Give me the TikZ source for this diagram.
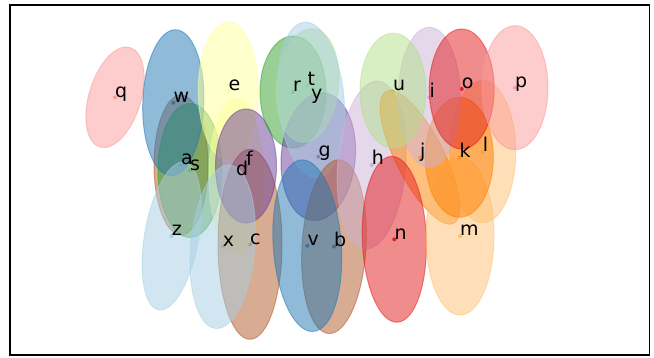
\documentclass[tikz,border=0pt]{standalone}
\usepackage{fontspec}
\setmainfont{DejaVu Sans}

% qualitative "Paired" palette
\definecolor{pLightBlue}{HTML}{A6CEE3}
\definecolor{pBlue}{HTML}{1F78B4}
\definecolor{pLightGreen}{HTML}{B2DF8A}
\definecolor{pGreen}{HTML}{33A02C}
\definecolor{pPink}{HTML}{FB9A99}
\definecolor{pRed}{HTML}{E31A1C}
\definecolor{pLightOrange}{HTML}{FDBF6F}
\definecolor{pOrange}{HTML}{FF7F00}
\definecolor{pLightPurple}{HTML}{CAB2D6}
\definecolor{pPurple}{HTML}{6A3D9A}
\definecolor{pYellow}{HTML}{FFFF99}
\definecolor{pBrown}{HTML}{B15928}

\begin{document}
\begin{tikzpicture}[x=1pt,y=-1pt,
  keyblob/.style={fill=#1, draw=#1, fill opacity=0.5, draw opacity=0.5, line width=1pt},
  keylabel/.style={anchor=base west, inner sep=0pt, text=black,
                   font=\fontsize{19}{19}\selectfont}]
\useasboundingbox (0,0) rectangle (654,358);

% key / centre x / centre y / x radius / y radius / tilt / colour  (in drawing order)
\def\keyspread{%
  q/115/97.3/26/52/-17/pPink,
  a/181/165/27/70/0/pBrown,
  s/190/170.5/32/67/0/pGreen,
  w/173.3/102.7/30.5/73/-2/pBlue,
  e/228.3/91/30/69/0/pYellow,
  d/236/176/27/77/0/pYellow,
  c/250/244.3/32/95/0/pBrown,
  f/246/166/30.5/57/0/pPurple,
  z/171.7/236/27/75/-10/pLightBlue,
  x/222.7/246.7/32/82/-5/pLightBlue,
  r/293/92/33/56/0/pGreen,
  g/318.3/156.7/37/64/-5/pPurple,
  t/307.5/85.5/31/57/-6/pLightGreen,
  y/311/100/33/78/5/pLightBlue,
  b/334/246.7/32/87/-3.5/pBrown,
  v/307.3/245.7/34/86/4/pBlue,
  h/371.7/165/34/84/-4.5/pLightPurple,
  j/420/157.3/24/74/27/pOrange,
  n/394.3/239.3/32/83/2/pRed,
  m/460/236/34/79/0/pLightOrange,
  l/482.7/151.7/33/71/0/pLightOrange,
  k/459.3/157.3/34/60/0/pOrange,
  i/429.3/97.3/31/70/0/pLightPurple,
  u/393/90.7/33/57.5/0/pLightGreen,
  o/461.7/89/32.5/60/0/pRed,
  p/515/87.7/33/62/0/pPink}

% key positions
\foreach \key/\cx/\cy/\rx/\ry/\ang/\kc in \keyspread
  \fill[\kc] (\cx,\cy) circle[radius=2pt];

% spread of each key
\foreach \key/\cx/\cy/\rx/\ry/\ang/\kc in \keyspread
  \filldraw[keyblob=\kc, shift={(\cx,\cy)}, rotate=\ang]
    (0,0) ellipse[x radius=\rx pt, y radius=\ry pt];

% key names
\foreach \key/\cx/\cy/\rx/\ry/\ang/\kc in \keyspread
  \node[keylabel] (lbl-\key) at (\cx,\cy) {\key};

% axes frame
\draw[line width=1.6pt] (10,5) rectangle (649.5,355);
\end{tikzpicture}
\end{document}
